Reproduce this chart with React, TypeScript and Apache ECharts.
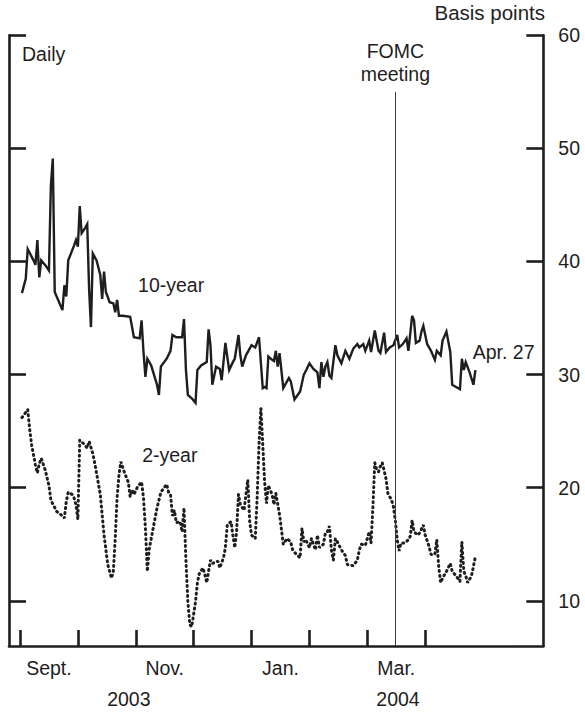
import React, { useEffect, useRef } from "react";
import * as echarts from "echarts";

// Dates are "MM/DD"; Aug–Dec belong to 2003, Jan–May to 2004.
const tenYearDates = [
  "09/02", "09/04", "09/05", "09/08", "09/09", "09/10", "09/11", "09/12", "09/14", "09/16",
  "09/17", "09/18", "09/19", "09/23", "09/24", "09/25", "09/26", "09/29", "09/30", "10/01",
  "10/02", "10/03", "10/05", "10/06", "10/07", "10/08", "10/09", "10/11", "10/13", "10/14",
  "10/15", "10/16", "10/18", "10/20", "10/21", "10/22", "10/23", "10/25", "10/29", "10/31",
  "11/03", "11/04", "11/05", "11/06", "11/07", "11/09", "11/12", "11/13", "11/14", "11/17",
  "11/19", "11/20", "11/22", "11/25", "11/26", "11/27", "11/28", "11/30", "12/02", "12/03",
  "12/05", "12/08", "12/09", "12/10", "12/11", "12/13", "12/15", "12/16", "12/18", "12/20",
  "12/22", "12/23", "12/25", "12/26", "12/27", "12/29", "01/01", "01/03", "01/05", "01/07",
  "01/08", "01/09", "01/10", "01/12", "01/13", "01/14", "01/15", "01/16", "01/18", "01/21",
  "01/22", "01/24", "01/27", "01/29", "01/30", "02/01", "02/03", "02/05", "02/06", "02/07",
  "02/08", "02/09", "02/10", "02/11", "02/12", "02/14", "02/15", "02/17", "02/19", "02/21",
  "02/23", "02/25", "02/26", "02/28", "02/29", "03/02", "03/03", "03/05", "03/07", "03/08",
  "03/10", "03/11", "03/13", "03/15", "03/17", "03/18", "03/20", "03/22", "03/23", "03/25",
  "03/26", "03/27", "03/29", "03/30", "03/31", "04/02", "04/04", "04/06", "04/07", "04/09",
  "04/10", "04/12", "04/14", "04/15", "04/17", "04/19", "04/20", "04/21", "04/22", "04/24",
  "04/26", "04/27",
];
const tenYearValues = [
  37.2, 38.5, 41.1, 40.1, 39.7, 41.9, 38.6, 40.1, 39.7, 39.2,
  46.7, 49.1, 37.3, 35.7, 37.9, 36.9, 40.1, 41.4, 41.9, 41.3,
  44.9, 42.5, 43.0, 43.3, 37.6, 34.2, 40.7, 40.1, 38.8, 36.7,
  39.1, 37.3, 36.4, 36.3, 35.5, 36.6, 35.2, 35.2, 35.1, 33.3,
  33.2, 34.8, 32.0, 29.8, 31.4, 30.8, 29.1, 28.2, 30.7, 31.4,
  32.1, 33.5, 33.3, 33.3, 34.9, 30.4, 28.2, 27.9, 27.5, 30.4,
  30.8, 31.1, 34.0, 32.6, 29.1, 30.7, 30.5, 29.5, 32.8, 30.4,
  31.1, 31.4, 33.5, 31.7, 30.7, 31.7, 32.6, 32.4, 33.3, 28.8,
  28.9, 28.8, 31.6, 31.3, 31.2, 32.1, 30.7, 31.9, 28.8, 29.7,
  29.4, 27.8, 28.5, 30.0, 30.3, 31.0, 30.5, 30.2, 28.8, 31.1,
  29.8, 30.7, 31.1, 29.9, 29.7, 32.6, 31.7, 31.0, 32.1, 31.4,
  32.3, 32.7, 32.4, 32.7, 32.1, 33.0, 32.0, 33.9, 32.1, 31.9,
  33.7, 32.0, 32.4, 32.6, 33.5, 32.4, 32.7, 33.2, 32.1, 35.2,
  34.8, 32.8, 33.0, 33.8, 34.3, 32.7, 32.1, 31.3, 32.1, 31.7,
  33.0, 33.8, 32.0, 29.1, 28.9, 28.7, 31.4, 30.4, 31.1, 30.2,
  29.1, 30.4,
];

const twoYearDates = [
  "09/02", "09/05", "09/06", "09/07", "09/09", "09/10", "09/11", "09/12", "09/14", "09/16",
  "09/17", "09/20", "09/23", "09/24", "09/25", "09/26", "09/28", "09/29", "09/30", "10/01",
  "10/02", "10/04", "10/06", "10/07", "10/09", "10/10", "10/13", "10/15", "10/17", "10/19",
  "10/20", "10/21", "10/22", "10/23", "10/24", "10/26", "10/28", "10/29", "10/30", "10/31",
  "11/02", "11/04", "11/05", "11/06", "11/07", "11/08", "11/10", "11/12", "11/14", "11/17",
  "11/18", "11/19", "11/20", "11/21", "11/22", "11/24", "11/25", "11/26", "11/27", "11/28",
  "11/29", "11/30", "12/02", "12/03", "12/04", "12/06", "12/07", "12/08", "12/10", "12/11",
  "12/14", "12/15", "12/17", "12/18", "12/19", "12/21", "12/22", "12/23", "12/24", "12/25",
  "12/26", "12/28", "12/29", "12/30", "12/31", "01/01", "01/03", "01/04", "01/05", "01/06",
  "01/07", "01/08", "01/09", "01/10", "01/12", "01/13", "01/14", "01/16", "01/18", "01/20",
  "01/22", "01/23", "01/25", "01/27", "01/28", "01/29", "01/30", "02/01", "02/02", "02/04",
  "02/05", "02/06", "02/08", "02/09", "02/10", "02/11", "02/12", "02/13", "02/14", "02/15",
  "02/17", "02/19", "02/20", "02/23", "02/25", "02/26", "02/27", "02/29", "03/02", "03/03",
  "03/04", "03/05", "03/06", "03/07", "03/08", "03/09", "03/11", "03/12", "03/14", "03/15",
  "03/16", "03/17", "03/18", "03/19", "03/21", "03/23", "03/24", "03/25", "03/26", "03/28",
  "03/29", "03/31", "04/01", "04/03", "04/04", "04/06", "04/07", "04/08", "04/09", "04/10",
  "04/12", "04/14", "04/15", "04/17", "04/19", "04/20", "04/21", "04/22", "04/23", "04/25",
  "04/27",
];
const twoYearValues = [
  26.2, 26.9, 25.2, 23.8, 22.0, 21.3, 22.1, 22.6, 21.6, 20.2,
  18.9, 17.9, 17.5, 17.3, 18.8, 19.6, 19.4, 19.1, 18.5, 17.2,
  24.2, 23.9, 23.5, 24.1, 23.0, 22.2, 19.4, 15.8, 13.2, 12.0,
  12.6, 15.5, 19.1, 21.1, 22.3, 21.3, 20.5, 19.2, 19.8, 19.4,
  20.1, 20.5, 19.1, 16.4, 12.6, 14.6, 16.4, 18.2, 19.6, 20.3,
  19.6, 19.4, 17.5, 18.0, 16.9, 17.0, 16.1, 18.2, 13.5, 9.9,
  7.9, 7.7, 9.9, 11.6, 12.4, 12.9, 12.3, 11.6, 13.6, 13.3,
  13.5, 12.9, 13.8, 14.7, 16.7, 17.0, 15.8, 14.7, 16.1, 19.4,
  18.5, 18.0, 19.4, 20.7, 17.0, 15.8, 15.5, 19.1, 23.8, 27.0,
  23.8, 20.5, 18.6, 20.2, 19.4, 18.5, 19.5, 17.6, 15.0, 15.5,
  15.2, 14.5, 14.1, 13.8, 16.4, 15.2, 15.4, 14.7, 15.5, 14.5,
  15.8, 14.7, 15.0, 16.0, 16.1, 16.6, 14.5, 13.6, 15.5, 15.2,
  14.5, 14.0, 13.2, 13.1, 13.6, 14.5, 15.0, 14.9, 16.1, 15.1,
  18.3, 22.2, 21.6, 21.4, 21.9, 22.2, 20.8, 19.5, 18.9, 18.3,
  17.1, 15.4, 14.4, 15.1, 15.1, 15.4, 15.7, 17.1, 16.1, 15.8,
  16.0, 16.7, 15.8, 14.8, 14.1, 14.1, 15.4, 13.0, 11.6, 12.0,
  12.6, 13.3, 12.6, 12.2, 11.7, 15.2, 12.6, 12.2, 11.6, 12.2,
  13.9,
];

const fomcDate = "03/16";
const monthLabels = ["Sept.", "Nov.", "Jan.", "Mar."];
const monthLabelDates = ["09/16", "11/16", "01/16", "03/16"];
const monthTickDates = ["09/01", "10/01", "11/01", "12/01", "01/01", "02/01", "03/01", "04/01"];
const yearLabels = ["2003", "2004"];
const yearLabelPos = [1.88, 6.53]; // in months since Sept. 1, 2003
const yTicks = [10, 20, 30, 40, 50, 60];

const INK = "#1f1d1e";
const FONT = "'Liberation Sans', Arial, Helvetica, sans-serif";
const FS = 19.5;

// Equal-width months: position = months since Sept. 1, 2003 + fraction of month.
function monthPos(md: string): number {
  const [mm, dd] = md.split("/").map(Number);
  const year = mm >= 8 ? 2003 : 2004;
  const idx = (year - 2003) * 12 + (mm - 9);
  const dim = new Date(year, mm, 0).getDate();
  return idx + (dd - 1) / dim;
}

export default function App() {
  const ref = useRef<HTMLDivElement>(null);
  useEffect(() => {
    document.body.style.margin = "0";
    const chart = echarts.init(ref.current!, null, { renderer: "svg" });
    const tenYear = tenYearDates.map((d, i) => [monthPos(d), tenYearValues[i]]);
    const twoYear = twoYearDates.map((d, i) => [monthPos(d), twoYearValues[i]]);
    const fomc = monthPos(fomcDate);
    const monthLabelPos = monthLabelDates.map((d) => Math.floor(monthPos(d)) + 0.5);
    const monthTicks = monthTickDates.map(monthPos);
    const axisLineStyle = { color: INK, width: 2.6 };
    const xMin = -0.19;
    const xMax = 9.04;
    chart.setOption({
      animation: false,
      backgroundColor: "#ffffff",
      textStyle: { fontFamily: FONT, color: INK },
      grid: { left: 9, right: 41.7, top: 35.3, bottom: 67, containLabel: false, outerBoundsMode: "none" },
      xAxis: [
        {
          type: "value",
          min: xMin,
          max: xMax,
          axisLine: { show: true, onZero: false, lineStyle: axisLineStyle },
          axisTick: { show: true, inside: true, length: 16, customValues: monthTicks, lineStyle: axisLineStyle },
          axisLabel: {
            show: true,
            customValues: monthLabelPos,
            formatter: (v: number) => {
              const i = monthLabelPos.findIndex((p) => Math.abs(p - v) < 1e-6);
              return i >= 0 ? monthLabels[i] : "";
            },
            color: INK,
            fontSize: FS,
            fontFamily: FONT,
            margin: 12,
          },
          splitLine: { show: false },
        },
        {
          type: "value",
          min: xMin,
          max: xMax,
          position: "bottom",
          axisLine: { show: false },
          axisTick: { show: false },
          axisLabel: {
            show: true,
            customValues: yearLabelPos,
            formatter: (v: number) => {
              const i = yearLabelPos.findIndex((p) => Math.abs(p - v) < 1e-6);
              return i >= 0 ? yearLabels[i] : "";
            },
            color: INK,
            fontSize: FS,
            fontFamily: FONT,
            margin: 43,
          },
          splitLine: { show: false },
        },
      ],
      yAxis: [
        {
          type: "value",
          min: 6,
          max: 60,
          position: "left",
          axisLine: { show: true, onZero: false, lineStyle: axisLineStyle },
          axisTick: { show: true, inside: true, length: 17, customValues: yTicks, lineStyle: axisLineStyle },
          axisLabel: { show: false },
          splitLine: { show: false },
        },
        {
          type: "value",
          min: 6,
          max: 60,
          position: "right",
          axisLine: { show: true, onZero: false, lineStyle: axisLineStyle },
          axisTick: { show: true, inside: true, length: 17, customValues: yTicks, lineStyle: axisLineStyle },
          axisLabel: { show: true, customValues: yTicks, margin: 15, fontSize: FS, color: INK, fontFamily: FONT },
          splitLine: { show: false },
        },
      ],
      graphic: [
        {
          type: "text",
          left: 22,
          top: 44,
          style: { text: "Daily", fontSize: FS, fill: INK, fontFamily: FONT },
        },
        {
          type: "text",
          right: 40,
          top: 2,
          style: { text: "Basis points", fontSize: 20.5, fill: INK, fontFamily: FONT },
        },
      ],
      series: [
        {
          name: "10-year",
          type: "line",
          data: tenYear,
          showSymbol: false,
          symbol: "none",
          lineStyle: { color: INK, width: 2.4, join: "miter" },
          markLine: {
            silent: true,
            symbol: ["none", "none"],
            lineStyle: { type: "solid", color: "#3a3a3a", width: 1 },
            label: {
              show: true,
              position: "start",
              distance: 6,
              formatter: "FOMC\nmeeting",
              fontSize: FS,
              lineHeight: 23,
              color: INK,
              fontFamily: FONT,
              align: "center",
            },
            data: [[{ coord: [fomc, 55] }, { coord: [fomc, 6] }]],
          },
          markPoint: {
            symbol: "circle",
            symbolSize: 0,
            silent: true,
            label: { show: true, position: "right", distance: 0, fontSize: FS, color: INK, fontFamily: FONT },
            data: [
              { coord: [2.04, 37.9], label: { formatter: "10-year" } },
              { coord: [7.82, 32.0], label: { formatter: "Apr. 27" } },
            ],
          },
        },
        {
          name: "2-year",
          type: "line",
          data: twoYear,
          showSymbol: false,
          symbol: "none",
          lineStyle: { color: INK, width: 3, type: [1, 4], cap: "round" },
          markPoint: {
            symbol: "circle",
            symbolSize: 0,
            silent: true,
            label: { show: true, position: "right", distance: 0, fontSize: FS, color: INK, fontFamily: FONT },
            data: [{ coord: [2.11, 22.9], label: { formatter: "2-year" } }],
          },
        },
      ],
    });
    return () => chart.dispose();
  }, []);
  return <div ref={ref} style={{ width: 585, height: 713 }} />;
}
